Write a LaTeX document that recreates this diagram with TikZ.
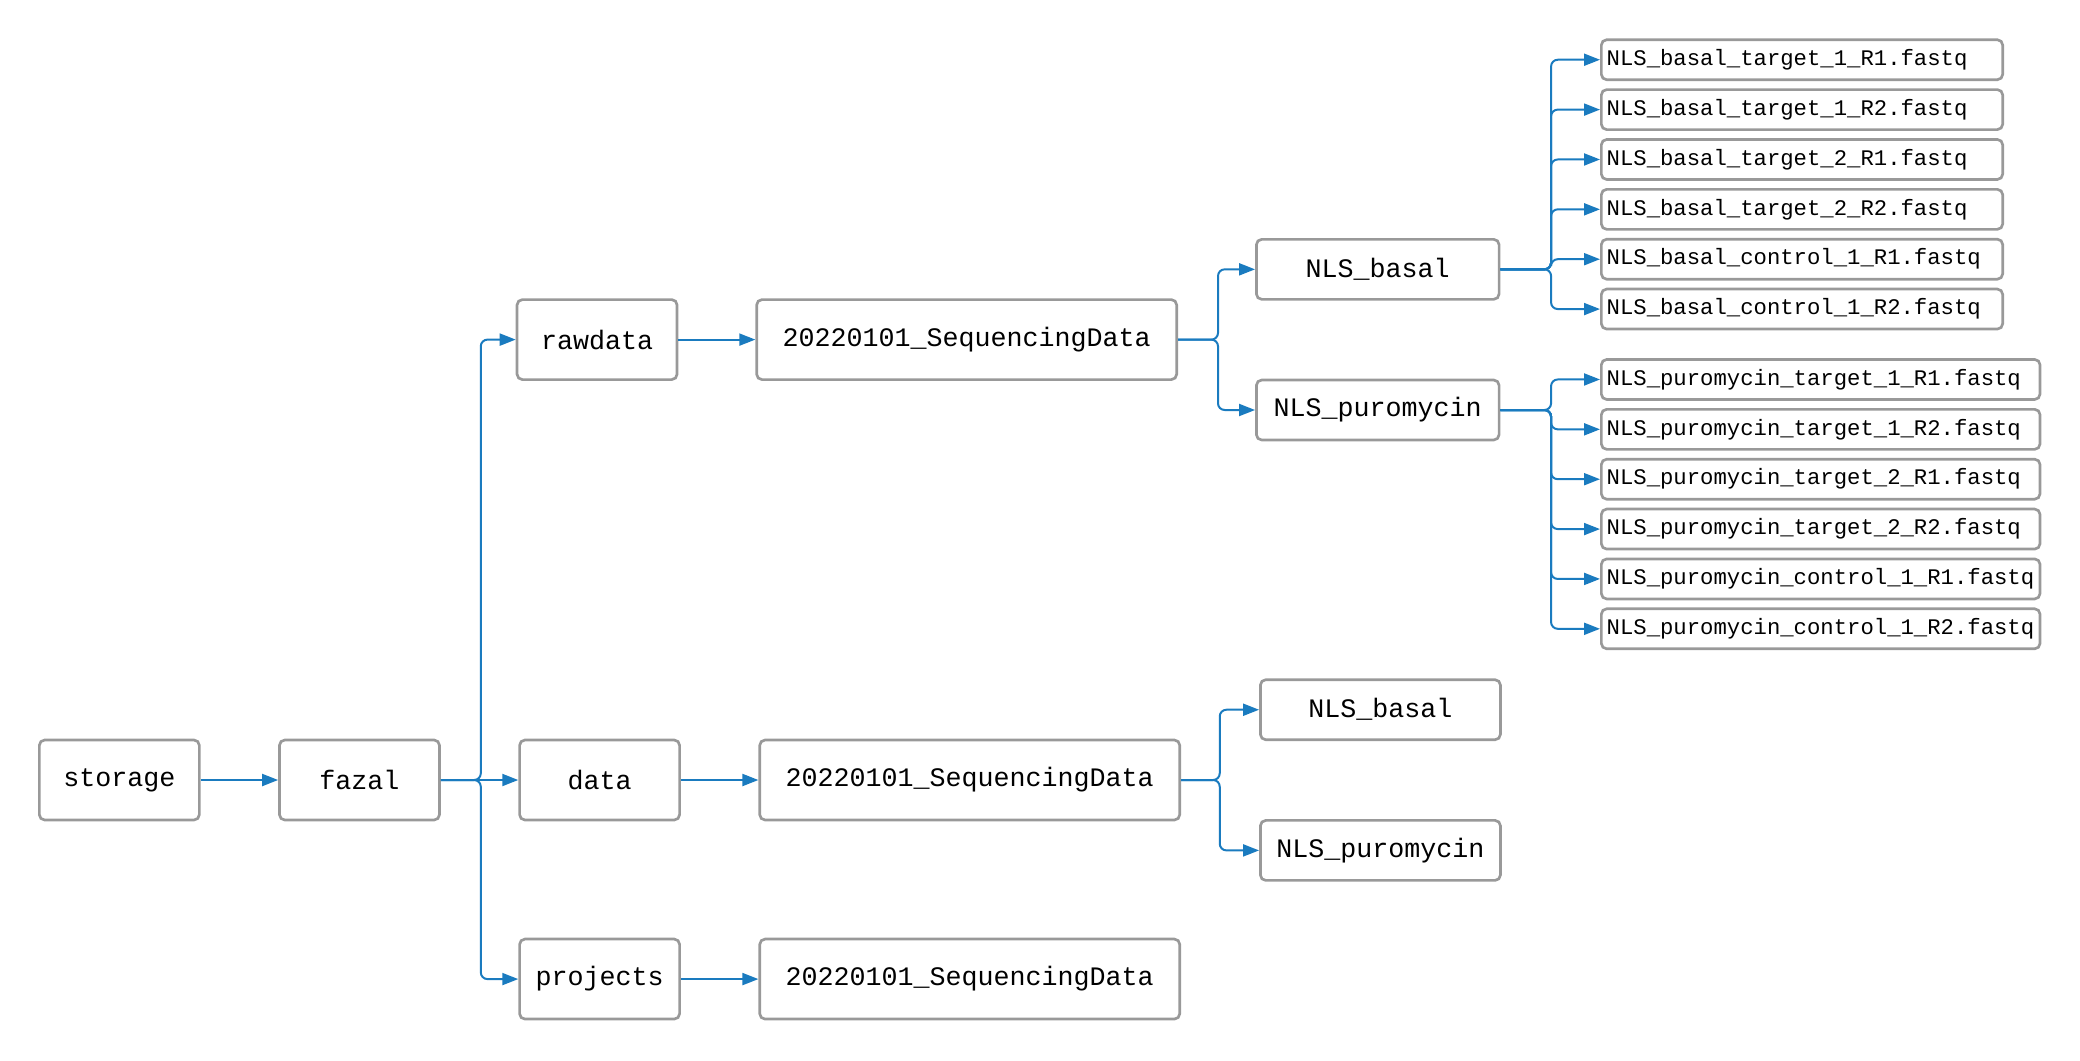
\documentclass[tikz,border=0pt]{standalone}
\usepackage{fontspec}
\usepackage{xcolor}
\usepackage{tikz}
\usetikzlibrary{arrows.meta}
\newfontfamily\treefont{Liberation Mono}
\definecolor{edge}{HTML}{999999}
\definecolor{link}{HTML}{1A7BBF}
\tikzset{
  dir/.style={draw=edge, line width=2pt, rounded corners=4pt, fill=white,
    minimum height=60pt, minimum width=120pt, inner sep=2pt,
    font=\treefont\fontsize{20}{24}\selectfont},
  seqdir/.style={dir, minimum width=315pt},
  sub/.style={dir, minimum height=45pt, minimum width=182pt},
  file/.style={draw=edge, line width=2pt, rounded corners=4pt, anchor=west,
    minimum height=30pt, inner xsep=4pt, inner ysep=2pt, align=left,
    font=\treefont\fontsize{16.7}{20}\selectfont},
  conn/.style={draw=link, line width=1.5pt, rounded corners=5pt,
    -{Triangle[length=12pt,width=9pt]}},
}
\begin{document}
\begin{tikzpicture}[x=1pt,y=-1pt]
  \useasboundingbox (0,0) rectangle (1560,795);
  % main tree
  \node[dir] (storage) at (89.5,585) {storage};
  \node[dir] (fazal) at (269.6,585) {fazal};
  \node[dir] (rawdata) at (447.8,254.7) {rawdata};
  \node[dir] (data) at (449.7,585) {data};
  \node[dir] (projects) at (449.7,734.3) {projects};
  \node[seqdir] (seqA) at (725,254.7) {20220101\_SequencingData};
  \node[seqdir] (seqB) at (727.3,585) {20220101\_SequencingData};
  \node[seqdir] (seqC) at (727.3,734.3) {20220101\_SequencingData};
  \node[sub] (basA) at (1033.3,202) {NLS\_basal};
  \node[sub] (puroA) at (1033.3,307.5) {NLS\_puromycin};
  \node[sub, minimum width=180pt] (basB) at (1035.3,532.3) {NLS\_basal};
  \node[sub, minimum width=180pt] (puroB) at (1035.3,637.8) {NLS\_puromycin};
  % fastq files
  \foreach \f [count=\i] in {target\_1\_R1,target\_1\_R2,target\_2\_R1,target\_2\_R2,control\_1\_R1,control\_1\_R2}{
    \node[file, text width=293pt] (fb\i) at (1200,{44.8+(\i-1)*37.4}) {NLS\_basal\_\f.fastq};
    \node[file, text width=321pt] (fp\i) at (1200,{284.6+(\i-1)*37.4}) {NLS\_puromycin\_\f.fastq};
  }
  % connectors
  \draw[conn] (storage) -- (fazal);
  \draw[conn] (fazal.east) -- ++(30,0) |- (rawdata.west);
  \draw[conn] (fazal) -- (data);
  \draw[conn] (fazal.east) -- ++(30,0) |- (projects.west);
  \draw[conn] (rawdata) -- (seqA);
  \draw[conn] (data) -- (seqB);
  \draw[conn] (projects) -- (seqC);
  \draw[conn] (seqA.east) -- ++(30,0) |- (basA.west);
  \draw[conn] (seqA.east) -- ++(30,0) |- (puroA.west);
  \draw[conn] (seqB.east) -- ++(29,0) |- (basB.west);
  \draw[conn] (seqB.east) -- ++(29,0) |- (puroB.west);
  \foreach \i in {1,...,6}{
    \draw[conn] (basA.east) -- ++(38,0) |- (fb\i.west);
    \draw[conn] (puroA.east) -- ++(38,0) |- (fp\i.west);
  }
\end{tikzpicture}
\end{document}
